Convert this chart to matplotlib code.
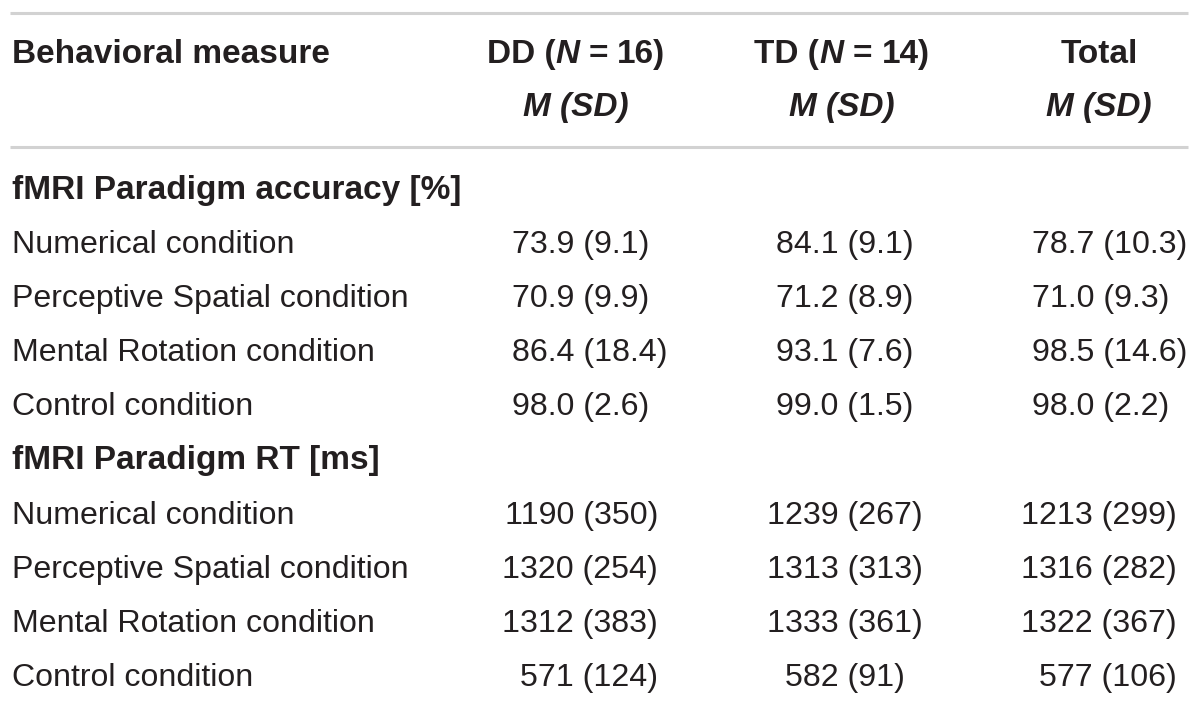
import matplotlib
matplotlib.use("Agg")
import matplotlib.pyplot as plt
from matplotlib.lines import Line2D

# ---------------- data ----------------
group_headers = ["DD", "TD", "Total"]
group_n = ["16", "14", None]
stat_header = "M (SD)"
row_header = "Behavioral measure"

section_titles = ["fMRI Paradigm accuracy [%]", "fMRI Paradigm RT [ms]"]
conditions = ["Numerical condition", "Perceptive Spatial condition",
              "Mental Rotation condition", "Control condition"]

acc_dd = ["73.9 (9.1)", "70.9 (9.9)", "86.4 (18.4)", "98.0 (2.6)"]
acc_td = ["84.1 (9.1)", "71.2 (8.9)", "93.1 (7.6)", "99.0 (1.5)"]
acc_total = ["78.7 (10.3)", "71.0 (9.3)", "98.5 (14.6)", "98.0 (2.2)"]

rt_dd = ["1190 (350)", "1320 (254)", "1312 (383)", "571 (124)"]
rt_td = ["1239 (267)", "1313 (313)", "1333 (361)", "582 (91)"]
rt_total = ["1213 (299)", "1316 (282)", "1322 (367)", "577 (106)"]

# ---------------- style / layout ----------------
FAMILY = ["Liberation Sans", "DejaVu Sans"]
TXT = "#231f20"
LINE = "#d2d2d2"
FS_REG = 23.1
FS_BOLD = 24.0

W, H = 1200, 705
fig = plt.figure(figsize=(W / 100, H / 100), dpi=100)
ax = fig.add_axes([0, 0, 1, 1])
ax.set_xlim(0, W)
ax.set_ylim(H, 0)
ax.axis("off")
renderer = fig.canvas.get_renderer()

LEFT = 12
col_centers = [576, 842, 1099]
cap_half = 11  # half cap-height in px, baseline = center + cap_half


def fs_for(weight):
    return FS_BOLD if weight == "bold" else FS_REG


def put(x, yc, s, weight="normal", style="normal", ha="left"):
    return ax.text(x, yc + cap_half, s, ha=ha, va="baseline", fontsize=fs_for(weight),
                   fontweight=weight, fontstyle=style, family=FAMILY, color=TXT)


def width_of(s, weight="normal", style="normal"):
    t = ax.text(0, 0, s, fontsize=fs_for(weight), fontweight=weight, fontstyle=style,
                family=FAMILY)
    bb = t.get_window_extent(renderer)
    t.remove()
    return bb.width


def rich_center(pieces, xc, yc):
    """pieces: list of (text, weight, style, space_after)"""
    sp = width_of("x x", "bold") - width_of("xx", "bold")
    widths = [width_of(p[0], p[1], p[2]) for p in pieces]
    total = sum(widths) + sum(sp for p in pieces[:-1] if p[3])
    x = xc - total / 2
    for (s, w, st, gap), wd in zip(pieces, widths):
        put(x, yc, s, weight=w, style=st)
        x += wd + (sp if gap else 0)


# rules
for y in (13, 147):
    ax.add_line(Line2D([10, 1188], [y, y], color=LINE, lw=2.2, solid_capstyle="butt"))

# header
y_h1, y_h2 = 52, 105
put(LEFT, y_h1, row_header, weight="bold")
for name, n, xc in zip(group_headers, group_n, col_centers):
    if n is None:
        put(xc, y_h1, name, weight="bold", ha="center")
    else:
        rich_center([(name + " (", "bold", "normal", False),
                     ("N", "bold", "italic", True),
                     ("=", "bold", "normal", True),
                     (n + ")", "bold", "normal", False)], xc, y_h1)
    put(xc, y_h2, stat_header, weight="bold", style="italic", ha="center")

# body
y0, dy = 188, 54.1
sections = [
    (section_titles[0], [acc_dd, acc_td, acc_total], ["left", "left", "left"]),
    (section_titles[1], [rt_dd, rt_td, rt_total], ["right", "center", "right"]),
]
# column anchors for the different alignments
anchors = {"left": [512, 776, 1032], "right": [658, 920, 1177], "center": [580, 845, 1102]}

r = 0
for title, cols, aligns in sections:
    put(LEFT, y0 + r * dy, title, weight="bold")
    r += 1
    for i, cond in enumerate(conditions):
        yc = y0 + r * dy
        put(LEFT, yc, cond)
        for j, (vals, al) in enumerate(zip(cols, aligns)):
            put(anchors[al][j], yc, vals[i], ha=al)
        r += 1

fig.savefig("out.png", dpi=100, facecolor="white")
